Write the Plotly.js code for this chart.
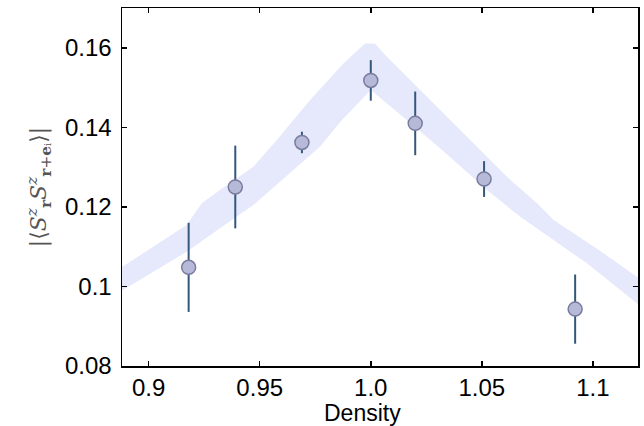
<!DOCTYPE html>
<html>
<head>
<meta charset="utf-8">
<script src="https://cdn.plot.ly/plotly-3.0.1.min.js"></script>
<style>html,body{margin:0;padding:0;background:#fff;}#chart{width:644px;height:426px;}</style>
</head>
<body>
<div id="chart"></div>
<script>
// Measured data points
const density = [0.918, 0.939, 0.969, 1.000, 1.020, 1.051, 1.092];
const corr    = [0.1048, 0.1250, 0.1362, 0.1518, 0.1410, 0.1270, 0.0943];
const corrErr = [0.0112, 0.0104, 0.0027, 0.0051, 0.0080, 0.0045, 0.0087];

// Shaded band (upper and lower edges)
const bandUpperX = [0.8803, 0.8871, 0.9021, 0.9171, 0.9239, 0.9321, 0.9471, 0.9577, 0.9727, 0.9877, 0.9974, 1.0019, 1.0072, 1.0207, 1.0297, 1.0492, 1.0613, 1.0748, 1.0823, 1.0913, 1.1048, 1.1198, 1.1258];
const bandUpperY = [0.1021, 0.10455, 0.1100, 0.11544, 0.12089, 0.12423, 0.13009, 0.1368, 0.14685, 0.15607, 0.1611, 0.1611, 0.15773, 0.15019, 0.14517, 0.13429, 0.12757, 0.12089, 0.11669, 0.11335, 0.10832, 0.10244, 0.1001];
const bandLowerX = [0.8803, 0.8871, 0.9021, 0.9171, 0.9321, 0.9471, 0.9622, 0.9772, 0.9862, 0.9922, 1.0000, 1.0207, 1.0372, 1.0523, 1.0673, 1.0823, 1.0973, 1.1198, 1.1258];
const bandLowerY = [0.09641, 0.09867, 0.1037, 0.10873, 0.11461, 0.12046, 0.12775, 0.13519, 0.14132, 0.14484, 0.14936, 0.13974, 0.13177, 0.12423, 0.11752, 0.11167, 0.10581, 0.09576, 0.09332];

// Axis ticks
const xTickVals = [0.9, 0.95, 1.0, 1.05, 1.1];
const xTickText = ['0.9', '0.95', '1.0', '1.05', '1.1'];
const yTickVals = [0.08, 0.10, 0.12, 0.14, 0.16];
const yTickText = ['0.08', '0.1', '0.12', '0.14', '0.16'];

const bandX = bandUpperX.concat(bandLowerX.slice().reverse());
const bandY = bandUpperY.concat(bandLowerY.slice().reverse());

const traces = [
  {
    x: bandX, y: bandY, type: 'scatter', mode: 'lines',
    fill: 'toself', fillcolor: 'rgb(230,232,251)',
    line: {width: 0, color: 'rgba(0,0,0,0)'},
    hoverinfo: 'skip', showlegend: false
  },
  {
    x: density, y: corr, type: 'scatter', mode: 'markers',
    marker: {size: 14, color: 'rgb(183,185,217)', line: {color: 'rgb(122,124,158)', width: 1.5}},
    error_y: {type: 'data', array: corrErr, visible: true, color: '#33587c', thickness: 2, width: 0},
    showlegend: false
  }
];

const tickFont = {family: '"Liberation Sans", Arial, Helvetica, sans-serif', size: 24, color: '#000'};

const layout = {
  width: 644, height: 426,
  margin: {l: 122, r: 6, t: 8, b: 60},
  paper_bgcolor: '#fff', plot_bgcolor: '#fff',
  showlegend: false,
  xaxis: {
    range: [0.888, 1.1203],
    tickvals: xTickVals, ticktext: xTickText,
    ticks: 'inside', ticklen: 5, tickwidth: 1.5, tickcolor: '#000',
    showline: true, linecolor: '#000', linewidth: 1.5, mirror: 'allticks',
    showgrid: false, zeroline: false,
    tickfont: tickFont, ticklabelstandoff: 0
  },
  yaxis: {
    range: [0.08, 0.17],
    tickvals: yTickVals, ticktext: yTickText,
    ticks: 'inside', ticklen: 5, tickwidth: 1.5, tickcolor: '#000',
    showline: true, linecolor: '#000', linewidth: 1.5, mirror: 'allticks',
    showgrid: false, zeroline: false,
    tickfont: tickFont, ticklabelstandoff: 4,
    title: {text: '|⟨<i>S</i><sup><i>z</i></sup><sub><b>r</b></sub><i>S</i><sup><i>z</i></sup><sub><b>r</b>+<b>e</b>ᵢ</sub>⟩|',
            font: {family: '"DejaVu Serif", "Liberation Serif", serif', size: 22, color: '#555'}, standoff: 12}
  },
  annotations: [{
    text: 'Density', xref: 'paper', yref: 'paper', x: 0.467, y: -0.132,
    xanchor: 'center', yanchor: 'middle', showarrow: false,
    font: {family: '"Liberation Sans", Arial, sans-serif', size: 23, color: '#000'}
  }]
};

Plotly.newPlot('chart', traces, layout, {displayModeBar: false, staticPlot: true});
</script>
</body>
</html>
